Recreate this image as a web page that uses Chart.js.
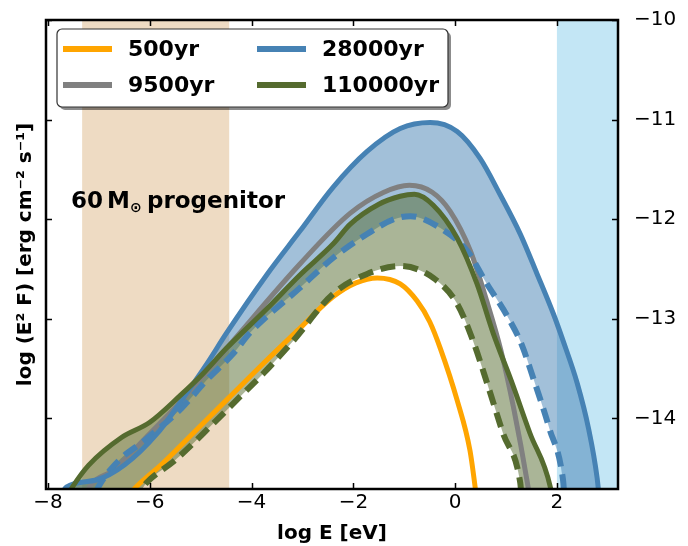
<!DOCTYPE html>
<html>
<head>
<meta charset="utf-8">
<script src="https://cdn.jsdelivr.net/npm/chart.js@4.4.1/dist/chart.umd.min.js"></script>
<style>
  html, body { margin: 0; padding: 0; background: #fff; }
  #wrap { width: 688px; height: 546px; }
</style>
</head>
<body>
<div id="wrap"><canvas id="sed" width="688" height="546"></canvas></div>
<script>
// [log E (eV), log E^2 F] pairs
const ages = ["500yr", "9500yr", "28000yr", "110000yr"];
const ageColors = ["#FFA500", "#808080", "#4682B4", "#556B2F"];

const orange500 = [[-6.55,-14.85],[-6.27,-14.69],[-5.74,-14.45],[-5.09,-14.12],[-4.44,-13.79],[-3.77,-13.45],[-3.10,-13.12],[-2.40,-12.78],[-1.95,-12.64],[-1.53,-12.59],[-1.08,-12.65],[-0.75,-12.82],[-0.50,-13.03],[-0.29,-13.30],[0.04,-13.82],[0.29,-14.32],[0.40,-14.72],[0.43,-14.85]];
const gray9500 = [[-7.3,-14.82],[-7.19,-14.69],[-6.72,-14.52],[-6.07,-14.19],[-5.28,-13.77],[-4.36,-13.22],[-3.05,-12.45],[-2.06,-11.94],[-1.40,-11.73],[-0.90,-11.66],[-0.45,-11.73],[-0.10,-11.92],[0.30,-12.32],[0.62,-12.82],[0.90,-13.32],[1.15,-13.90],[1.42,-14.65],[1.48,-14.85]];
const blueHi = [[-7.8,-14.82],[-7.64,-14.69],[-7.05,-14.62],[-6.5,-14.47],[-5.85,-14.15],[-5.28,-13.75],[-4.85,-13.43],[-4.5,-13.15],[-3.69,-12.55],[-3.05,-12.12],[-2.40,-11.68],[-1.73,-11.32],[-1.08,-11.09],[-0.49,-11.03],[0.04,-11.12],[0.49,-11.39],[0.88,-11.75],[1.28,-12.15],[1.61,-12.55],[1.93,-12.95],[2.12,-13.22],[2.40,-13.65],[2.62,-14.10],[2.79,-14.60],[2.84,-14.85]];
const blueLo = [[-7.15,-14.85],[-7.0,-14.68],[-6.60,-14.42],[-6.10,-14.22],[-5.38,-13.90],[-4.89,-13.62],[-4.36,-13.35],[-4.03,-13.14],[-3.05,-12.69],[-2.40,-12.39],[-1.73,-12.15],[-1.20,-12.00],[-0.88,-11.97],[-0.29,-12.09],[0.24,-12.32],[0.60,-12.63],[1.02,-12.97],[1.30,-13.25],[1.53,-13.59],[1.85,-14.10],[2.12,-14.62],[2.16,-14.85]];
const greenHi = [[-7.7,-14.85],[-7.52,-14.69],[-7.2,-14.47],[-6.55,-14.19],[-6.0,-14.04],[-5.4,-13.77],[-4.95,-13.55],[-4.5,-13.30],[-3.7,-12.90],[-3.05,-12.56],[-2.40,-12.25],[-2.06,-12.05],[-1.5,-11.85],[-1.08,-11.77],[-0.80,-11.75],[-0.43,-11.86],[0.04,-12.19],[0.43,-12.65],[0.75,-13.15],[1.10,-13.62],[1.47,-14.15],[1.87,-14.69],[1.92,-14.85]];
const greenLo = [[-6.35,-14.85],[-6.07,-14.65],[-5.5,-14.42],[-4.75,-14.05],[-4.30,-13.82],[-3.77,-13.55],[-3.18,-13.22],[-2.40,-12.75],[-1.73,-12.55],[-1.08,-12.47],[-0.43,-12.59],[0.04,-12.85],[0.35,-13.22],[0.63,-13.65],[0.94,-14.15],[1.28,-14.65],[1.32,-14.85]];

const xTicks = [-8, -6, -4, -2, 0, 2];
const yTicks = [-10, -11, -12, -13, -14];
const xRange = [-8.04, 3.2];
const yRange = [-14.71, -10];
const tanBand = [-7.33, -4.44];
const skyBand = [2.0, 3.2];

const FONT = '"DejaVu Sans", sans-serif';
Chart.defaults.font.family = FONT;
Chart.defaults.color = "#000";

const pts = arr => arr.map(([x, y]) => ({ x, y }));
const minus = v => String(v).replace("-", "\u2212");

// run the lower curve along below the axis so its fill spans the full upper curve
function underRun(lo, hi) {
    const below = lo[0][1];
    return [[hi[0][0], below]].concat(lo, [[hi[hi.length - 1][0], below]]);
}

function curve(arr, color, dashed, order, fillTo, fillColor) {
    return {
        data: pts(arr),
        showLine: true,
        borderColor: color,
        backgroundColor: fillColor || color,
        borderWidth: dashed ? 6 : 5,
        borderDash: dashed ? [15, 8] : [],
        pointRadius: 0,
        cubicInterpolationMode: "monotone",
        fill: fillTo === undefined ? false : fillTo,
        clip: 0,
        order: order,
    };
}

const decor = {
    id: "decor",
    beforeDraw(chart) {
        const { ctx, chartArea: a, scales: { x } } = chart;
        ctx.save();
        const t0 = x.getPixelForValue(tanBand[0]), t1 = x.getPixelForValue(tanBand[1]);
        ctx.fillStyle = "rgba(222,184,135,0.5)";
        ctx.fillRect(t0, a.top, t1 - t0, a.bottom - a.top);
        const s0 = x.getPixelForValue(skyBand[0]), s1 = x.getPixelForValue(skyBand[1]);
        ctx.fillStyle = "rgba(135,206,235,0.5)";
        ctx.fillRect(s0, a.top, s1 - s0, a.bottom - a.top);
        ctx.restore();
    },
    afterDraw(chart) {
        const { ctx, chartArea: a, scales: { x, y } } = chart;
        ctx.save();

        // inward ticks on all four sides
        ctx.strokeStyle = "#000";
        ctx.lineWidth = 1.5;
        ctx.beginPath();
        xTicks.forEach(v => {
            const px = Math.round(x.getPixelForValue(v)) + 0.5;
            ctx.moveTo(px, a.bottom); ctx.lineTo(px, a.bottom - 6);
            ctx.moveTo(px, a.top); ctx.lineTo(px, a.top + 6);
        });
        yTicks.forEach(v => {
            const py = Math.round(y.getPixelForValue(v)) + 0.5;
            ctx.moveTo(a.left, py); ctx.lineTo(a.left + 6, py);
            ctx.moveTo(a.right, py); ctx.lineTo(a.right - 6, py);
        });
        ctx.stroke();

        ctx.lineWidth = 2.5;
        ctx.strokeRect(a.left, a.top, a.right - a.left, a.bottom - a.top);

        // legend box
        const lx = 57, ly = 29, lw = 391, lh = 78;
        ctx.fillStyle = "rgba(0,0,0,0.45)";
        ctx.beginPath(); ctx.roundRect(lx + 3, ly + 3, lw, lh, 5); ctx.fill();
        ctx.fillStyle = "#fff";
        ctx.strokeStyle = "#333";
        ctx.lineWidth = 1.2;
        ctx.beginPath(); ctx.roundRect(lx, ly, lw, lh, 5); ctx.fill(); ctx.stroke();

        ctx.font = "bold 22px " + FONT;
        ctx.textBaseline = "middle";
        ctx.fillStyle = "#000";
        ages.forEach((label, i) => {
            const col = Math.floor(i / 2), row = i % 2;
            const x0 = lx + 6 + col * 194, yy = ly + 20 + row * 36;
            ctx.strokeStyle = ageColors[i];
            ctx.lineWidth = 6;
            ctx.beginPath(); ctx.moveTo(x0, yy); ctx.lineTo(x0 + 49, yy); ctx.stroke();
            ctx.fillText(label, x0 + 65, yy + 1);
        });

        // annotation
        ctx.textBaseline = "alphabetic";
        ctx.font = "bold 23px " + FONT;
        ctx.fillText("60", 71, 208);
        ctx.fillText("M", 107, 208);
        ctx.font = "bold 14px " + FONT;
        ctx.fillText("\u2299", 130, 212);
        ctx.font = "bold 23px " + FONT;
        ctx.fillText("progenitor", 147, 208);
        ctx.restore();
    },
};

// 0 orange, 1 gray, 2 blue dashed, 3 blue solid, 4 green dashed, 5 green solid
const datasets = [
    curve(orange500, ageColors[0], false, 6),
    curve(gray9500, ageColors[1], false, 5),
    curve(underRun(blueLo, blueHi), ageColors[2], true, 4),
    curve(blueHi, ageColors[2], false, 3, 2, "rgba(70,130,180,0.5)"),
    curve(underRun(greenLo, greenHi), ageColors[3], true, 2),
    curve(greenHi, ageColors[3], false, 1, 4, "rgba(85,107,47,0.5)"),
];

const yAxis = (pos, width, showLabels) => ({
    type: "linear",
    position: pos,
    min: yRange[0],
    max: yRange[1],
    afterBuildTicks: s => { s.ticks = yTicks.map(v => ({ value: v })); },
    afterFit: s => { s.width = width; },
    grid: { display: false },
    border: { display: false },
    ticks: { display: showLabels, padding: 8, font: { size: 20 }, callback: minus },
});

new Chart(document.getElementById("sed"), {
    type: "scatter",
    data: { datasets },
    options: {
        responsive: false,
        animation: false,
        devicePixelRatio: 1,
        layout: { padding: { top: 18, left: 0, right: 0, bottom: 0 } },
        plugins: {
            legend: { display: false },
            tooltip: { enabled: false },
            filler: { drawTime: "beforeDatasetsDraw" },
        },
        scales: {
            x: {
                type: "linear",
                position: "bottom",
                min: xRange[0],
                max: xRange[1],
                afterBuildTicks: s => { s.ticks = xTicks.map(v => ({ value: v })); },
                afterFit: s => { s.height = 57; },
                grid: { display: false },
                border: { display: false },
                ticks: { font: { size: 20 }, padding: -6, autoSkip: false, maxRotation: 0, callback: minus },
                title: { display: true, text: "log E [eV]", font: { size: 20, weight: "bold" }, padding: { top: 0, bottom: 0 } },
            },
            y: Object.assign(yAxis("left", 46, false), {
                title: { display: true, text: "log (E\u00b2 F) [erg cm\u207b\u00b2 s\u207b\u00b9]", font: { size: 20, weight: "bold" }, padding: { top: 14, bottom: 0 } },
            }),
            y2: yAxis("right", 70, true),
        },
    },
    plugins: [decor],
});
</script>
</body>
</html>
